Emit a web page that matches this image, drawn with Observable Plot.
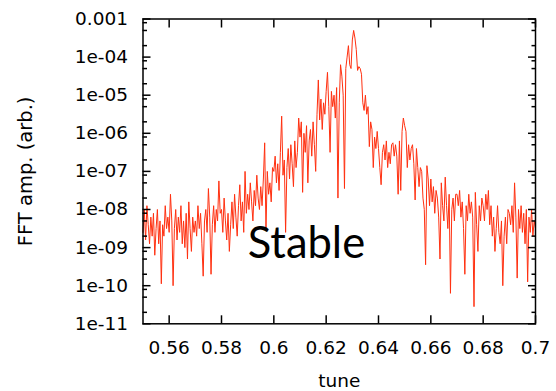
<!DOCTYPE html>
<html>
<head>
<meta charset="utf-8">
<script src="https://cdn.jsdelivr.net/npm/d3@7"></script>
<script src="https://cdn.jsdelivr.net/npm/@observablehq/plot@0.6"></script>
<style>
  html, body { margin: 0; padding: 0; background: white; }
</style>
</head>
<body>
<div id="chart"></div>
<script>
// FFT bin grid (tune)
const tuneStart = 0.55;
const tuneStep = 0.0005;
// log10 of FFT amplitude, one value per bin
const log10Amp = [
  -8.6, -8.0, -8.8, -7.9, -8.4, -8.9, -8.2, -8.7, -8.1, -9.2, -8.5, -8.0, -8.9, -8.3, -9.95, -8.4, -8.7, -7.9, -8.5, -8.2,
  -8.6, -7.6, -8.3, -10.0, -8.5, -8.0, -8.8, -8.2, -8.6, -7.9, -8.9, -8.3, -9.0, -8.1, -9.3, -7.8, -8.5, -9.1, -8.2, -8.6,
  -8.3, -8.7, -7.9, -8.5, -8.1, -8.9, -9.75, -8.3, -8.0, -8.6, -7.45, -8.2, -9.7, -8.4, -7.9, -8.6, -8.0, -8.3, -7.25, -8.1,
  -8.0, -8.6, -7.7, -8.3, -8.8, -8.1, -9.1, -8.4, -7.8, -8.5, -7.6, -8.2, -8.7, -7.9, -7.35, -8.3, -7.8, -8.6, -7.0, -8.1,
  -7.6, -8.0, -7.3, -7.8, -8.3, -7.5, -7.9, -7.1, -7.7, -8.0, -7.4, -7.9, -7.2, -6.25, -8.55, -7.0, -7.6, -7.3, -7.8, -6.9,
  -7.0, -6.6, -7.3, -6.8, -7.5, -6.5, -5.55, -7.1, -6.7, -8.6, -6.9, -6.4, -7.2, -6.3, -6.8, -7.4, -6.2, -6.9, -6.5, -5.6,
  -6.1, -5.7, -7.55, -6.0, -6.5, -5.8, -7.3, -6.2, -5.9, -6.6, -5.7, -6.3, -7.0, -5.5, -4.6, -5.65, -5.1, -5.9, -5.2, -5.5,
  -4.9, -4.4, -5.3, -6.5, -4.9, -5.3, -5.0, -5.6, -4.8, -7.7, -5.2, -4.2, -4.5, -5.0, -7.45, -4.3, -4.0, -3.7, -4.2, -4.3,
  -3.55, -3.3, -3.5, -3.8, -4.35, -4.25, -4.3, -4.45, -5.2, -5.4, -5.0, -5.5, -5.3, -6.35, -5.7, -5.9, -6.9, -6.1, -6.4, -5.95,
  -6.4, -6.9, -7.35, -6.5, -6.3, -6.7, -6.2, -6.9, -6.5, -6.8, -6.3, -6.25, -6.6, -6.3, -6.6, -7.6, -6.2, -7.5, -5.95, -5.6,
  -5.8, -5.95, -6.9, -6.3, -6.7, -6.4, -6.3, -6.8, -7.75, -6.4, -6.9, -7.4, -6.9, -7.0, -7.7, -8.0, -9.45, -6.85, -7.2, -7.9,
  -7.2, -7.8, -7.4, -8.1, -7.5, -7.7, -8.2, -9.3, -7.3, -7.9, -8.3, -7.15, -7.9, -8.5, -7.6, -10.2, -8.0, -7.7, -8.3, -7.6,
  -7.6, -7.9, -7.5, -8.2, -7.8, -8.5, -9.7, -7.9, -8.3, -7.6, -8.1, -7.8, -8.2, -10.55, -7.55, -8.4, -9.1, -7.9, -8.3, -7.7,
  -7.9, -8.3, -7.6, -8.0, -7.5, -8.4, -7.9, -8.7, -8.2, -9.1, -8.5, -7.9, -8.6, -8.9, -8.3, -10.0, -8.7, -8.2, -8.9, -8.0,
  -8.1, -8.4, -7.9, -8.6, -7.3, -8.2, -9.8, -8.0, -8.5, -7.9, -8.6, -8.1, -8.9, -8.0, -9.9, -8.2, -8.6, -8.0, -8.7, -8.3, -8.5
];

const xTicks = [0.56, 0.58, 0.60, 0.62, 0.64, 0.66, 0.68, 0.70];
const xTickLabels = ["0.56", "0.58", "0.6", "0.62", "0.64", "0.66", "0.68", "0.7"];
const yTicks = [1e-3, 1e-4, 1e-5, 1e-6, 1e-7, 1e-8, 1e-9, 1e-10, 1e-11];
const yTickLabels = ["0.001", "1e-04", "1e-05", "1e-06", "1e-07", "1e-08", "1e-09", "1e-10", "1e-11"];
const yMinorMultipliers = [2, 5, 8];
const xLabel = "tune";
const yLabel = "FFT amp. (arb.)";
const annotation = [{tune: 0.59, amp: 5.2e-10, text: "Stable"}];

const data = log10Amp.map((v, i) => ({tune: tuneStart + i * tuneStep, amp: Math.pow(10, v)}));
const yMinor = yTicks.slice(1).flatMap(d => yMinorMultipliers.map(m => d * m));
const xFmt = d => xTickLabels[xTicks.findIndex(t => Math.abs(t - d) < 1e-9)] ?? "";
const yFmt = d => yTickLabels[yTicks.findIndex(t => Math.abs(Math.log10(t) - Math.log10(d)) < 1e-6)] ?? "";

const chart = Plot.plot({
  width: 556,
  height: 391,
  marginLeft: 142.5,
  marginRight: 21,
  marginTop: 18.5,
  marginBottom: 67.7,
  style: {fontFamily: "DejaVu Sans", fontSize: "18.5px", background: "white", color: "black"},
  x: {domain: [0.55, 0.70]},
  y: {type: "log", domain: [1e-11, 1e-3]},
  marks: [
    Plot.line(data, {x: "tune", y: "amp", stroke: "#ff3010", strokeWidth: 1}),
    Plot.text(annotation, {x: "tune", y: "amp", text: "text", textAnchor: "start", lineAnchor: "bottom",
      fontFamily: "Lato", fontSize: 43.5, fill: "black"}),
    // bottom axis
    Plot.axisX(xTicks, {anchor: "bottom", tickSize: -8, tickPadding: 25, tickFormat: xFmt, label: null, strokeWidth: 1.5}),
    Plot.axisX(xTicks, {anchor: "top", tickSize: -8, tickFormat: () => "", label: null, strokeWidth: 1.5}),
    // left axis
    Plot.axisY(yTicks, {anchor: "left", tickSize: -8, tickPadding: 23, tickFormat: yFmt, label: null, strokeWidth: 1.5}),
    Plot.axisY(yMinor, {anchor: "left", tickSize: -4.5, tickFormat: () => "", label: null, strokeWidth: 1.5}),
    Plot.axisY(yTicks, {anchor: "right", tickSize: -8, tickFormat: () => "", label: null, strokeWidth: 1.5}),
    Plot.axisY(yMinor, {anchor: "right", tickSize: -4.5, tickFormat: () => "", label: null, strokeWidth: 1.5}),
    Plot.frame({stroke: "black", strokeWidth: 1.5}),
    Plot.text([xLabel], {frameAnchor: "bottom", dy: 63.5, textAnchor: "middle", lineAnchor: "bottom", fontSize: 18.5}),
    Plot.text([yLabel], {frameAnchor: "left", dx: -117.5, rotate: -90, textAnchor: "middle", lineAnchor: "middle", fontSize: 19.5})
  ]
});
document.getElementById("chart").appendChild(chart);
</script>
</body>
</html>
